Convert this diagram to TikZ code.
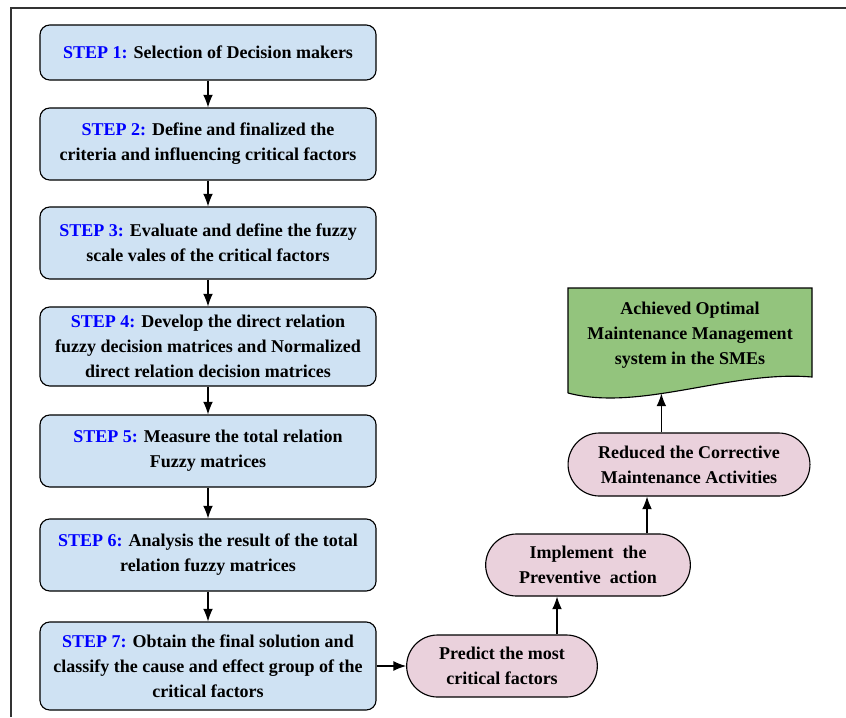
\documentclass[tikz,border=0pt]{standalone}
\usepackage{fontspec}
\setmainfont{Liberation Serif}
\usetikzlibrary{arrows.meta,shapes.misc}

\definecolor{stepblue}{RGB}{207,226,243}
\definecolor{actpink}{RGB}{234,209,220}
\definecolor{goalgreen}{RGB}{147,196,125}

\newcommand{\steplabel}[1]{\textcolor{blue}{STEP #1:}}

\begin{document}
\begin{tikzpicture}[x=0.025cm,y=-0.025cm,
        font=\bfseries\fontsize{12.8}{17.8}\selectfont,
        stepbox/.style={draw, thick, rounded corners=7pt, fill=stepblue,
            align=center, minimum width=8.4cm},
        actbox/.style={draw, thick, rounded rectangle, fill=actpink, align=center},
        arr/.style={-{Latex[length=9pt,width=7pt]}, thick}]
    \useasboundingbox (0,0) rectangle (846,717);
    \draw[line width=1.5pt, black!80] (11,717) -- (11,8) -- (846,8);

    % steps
    \node[stepbox, minimum height=1.375cm] (s1) at (208,52.5)
        {\steplabel{1} Selection of Decision makers};
    \node[stepbox, minimum height=1.8cm] (s2) at (208,144)
        {\steplabel{2} Define and finalized the\\criteria and influencing critical factors};
    \node[stepbox, minimum height=1.8cm] (s3) at (208,243)
        {\steplabel{3} Evaluate and define the fuzzy\\scale vales of the critical factors};
    \node[stepbox, minimum height=1.975cm] (s4) at (208,346.5)
        {\steplabel{4} Develop the direct relation\\fuzzy decision matrices and Normalized\\direct relation decision matrices};
    \node[stepbox, minimum height=1.8cm] (s5) at (208,451)
        {\steplabel{5} Measure the total relation\\Fuzzy matrices};
    \node[stepbox, minimum height=1.8cm] (s6) at (208,555)
        {\steplabel{6} Analysis the result of the total\\relation fuzzy matrices};
    \node[stepbox, minimum height=2.2cm] (s7) at (208,666)
        {\steplabel{7} Obtain the final solution and\\classify the cause and effect group of the\\critical factors};

    % actions
    \node[actbox, minimum width=5cm, minimum height=1.55cm] (pred) at (502,666)
        {Predict the most\\critical factors};
    \node[actbox, minimum width=5.35cm, minimum height=1.55cm] (impl) at (588,565)
        {Implement\ \ the\\Preventive\ \ action};
    \node[actbox, minimum width=6.28cm, minimum height=1.575cm] (red) at (689,464.5)
        {Reduced the Corrective\\Maintenance Activities};

    % goal
    \draw[thick, fill=goalgreen] (568,393) -- (568,288) -- (812,288) -- (812,377)
        .. controls +(-82,-7) and +(72,19) .. (568,393) coordinate[pos=0.6] (wave);
    \node[align=center] (goal) at (690,335)
        {Achieved Optimal\\Maintenance Management\\system in the SMEs};

    \foreach \a/\b in {s1/s2,s2/s3,s3/s4,s4/s5,s5/s6,s6/s7}
        \draw[arr] (\a) -- (\b);
    \draw[arr] (s7) -- (pred);
    \draw[arr] ([xshift=1.375cm]pred.north) -- ([xshift=1.375cm]pred.north |- impl.south);
    \draw[arr] ([xshift=1.475cm]impl.north) -- ([xshift=1.475cm]impl.north |- red.south);
    \draw[arr] (red.north -| wave) -- (wave);
\end{tikzpicture}
\end{document}
